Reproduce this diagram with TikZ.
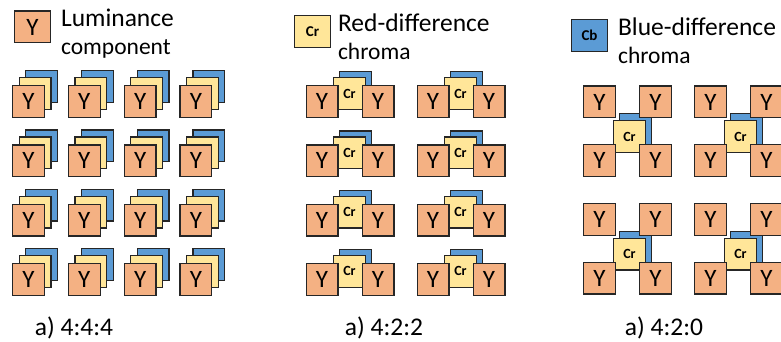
\documentclass[tikz,border=0pt]{standalone}
\usepackage{fontspec}
\setmainfont{Carlito}
\usetikzlibrary{positioning}

\definecolor{lumaorange}{HTML}{F4B183}
\definecolor{redchroma}{HTML}{FFE699}
\definecolor{bluechroma}{HTML}{5B9BD5}

\tikzset{
  sample/.style={draw=black!85, line width=1.2pt, minimum size=31.8pt, inner sep=0pt},
  ybox/.style={sample, fill=lumaorange, font=\fontsize{25}{25}\selectfont},
  crbox/.style={sample, fill=redchroma, font=\bfseries\fontsize{14}{14}\selectfont},
  cbbox/.style={sample, fill=bluechroma, font=\bfseries\fontsize{14}{14}\selectfont},
  legbox/.style={minimum width=35.5pt, minimum height=31.8pt},
  bigtext/.style={font=\fontsize{25.5}{25.5}\selectfont, inner sep=0pt},
  smalltext/.style={font=\fontsize{23.5}{23.5}\selectfont, inner sep=0pt},
}

\begin{document}
\begin{tikzpicture}[x=1pt, y=-1pt]

    \useasboundingbox (0,0) rectangle (781,342);

    %% 4:4:4

    % Legend
    \node[ybox, legbox] (leg-y) at (32.5,27) {Y};
    \node[bigtext, anchor=base west] (lum) at ([xshift=10pt]leg-y.east) {Luminance};
    \node[smalltext, anchor=base west] (comp) at ([yshift=-28pt]lum.base west) {component};

    % Samples
    \foreach \i in {0,...,3}
      \foreach \j in {0,...,3} {
        \node[cbbox] (a-cb-\i-\j) at (41.5+55.8*\i, 86.5+59.3*\j) {};
        \node[crbox] (a-cr-\i-\j) at (35+55.8*\i, 93.5+59.3*\j) {};
        \node[ybox] (a-y-\i-\j) at (28.5+55.8*\i, 101.5+59.3*\j) {Y};
      }
    \node[bigtext, anchor=base] (cap-a) at (74,335) {a) 4:4:4};

    %% 4:2:2

    % Legend
    \node[crbox, legbox, font=\bfseries\fontsize{15}{15}\selectfont] (leg-cr) at (312.5,31.5) {Cr};
    \node[bigtext, anchor=base west] (red) at ([xshift=7pt]leg-cr.east) {Red-difference};
    \node[smalltext, anchor=base west] (red-ch) at ([yshift=-28pt]red.base west) {chroma};

    % Samples
    \foreach \i in {0,1}
      \foreach \j in {0,...,3} {
        \node[cbbox] (b-cb-\i-\j) at (355.5+111*\i, 87.5+59.3*\j) {};
        \node[crbox] (b-cr-\i-\j) at (349.5+111*\i, 93.5+59.3*\j) {Cr};
        \node[ybox] (b-yl-\i-\j) at (322+111*\i, 101.5+59.3*\j) {Y};
        \node[ybox] (b-yr-\i-\j) at (378+111*\i, 101.5+59.3*\j) {Y};
      }
    \node[bigtext, anchor=base] (cap-b) at (384,335) {a) 4:2:2};

    %% 4:2:0

    % Legend
    \node[cbbox, legbox, font=\bfseries\fontsize{15}{15}\selectfont] (leg-cb) at (589.5,35.5) {Cb};
    \node[bigtext, anchor=base west] (blue) at ([xshift=10pt]leg-cb.east) {Blue-difference};
    \node[smalltext, anchor=base west] (blue-ch) at ([yshift=-28pt]blue.base west) {chroma};

    % Samples
    \foreach \i in {0,1}
      \foreach \j in {0,1} {
        \node[cbbox] (c-cb-\i-\j) at (635.5+111*\i, 129.5+117.5*\j) {};
        \node[crbox] (c-cr-\i-\j) at (629.5+111*\i, 136.5+117.5*\j) {Cr};
        \node[ybox] (c-ytl-\i-\j) at (599.5+111*\i, 102+117.5*\j) {Y};
        \node[ybox] (c-ytr-\i-\j) at (655.5+111*\i, 102+117.5*\j) {Y};
        \node[ybox] (c-ybl-\i-\j) at (599.5+111*\i, 160.5+117.5*\j) {Y};
        \node[ybox] (c-ybr-\i-\j) at (655.5+111*\i, 160.5+117.5*\j) {Y};
      }
    \node[bigtext, anchor=base] (cap-c) at (664,335) {a) 4:2:0};

\end{tikzpicture}
\end{document}
